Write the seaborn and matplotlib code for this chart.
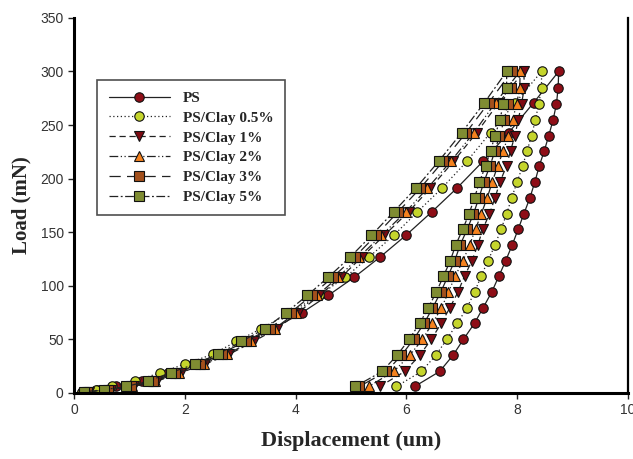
import matplotlib
matplotlib.use("Agg")
import matplotlib.pyplot as plt
import pandas as pd
import seaborn as sns

# Nanoindentation load-displacement curves (loading branch, then unloading branch)
series_names = ["PS", "PS/Clay 0.5%", "PS/Clay 1%", "PS/Clay 2%", "PS/Clay 3%", "PS/Clay 5%"]

loading_loads = [1, 3, 6, 11, 19, 27, 36, 48, 60, 75, 91, 108, 127, 147, 169, 191, 216, 243, 271, 300]
unloading_loads = [285, 270, 255, 240, 226, 212, 197, 182, 167, 153, 138, 123, 109, 94, 79, 65, 50, 35, 20, 6]

ps_loading = [0.15, 0.42, 0.76, 1.23, 1.70, 2.15, 2.62, 3.10, 3.60, 4.12, 4.59, 5.06, 5.53, 5.99, 6.46, 6.91, 7.38, 7.85, 8.30, 8.75]
ps_unloading = [8.74, 8.71, 8.65, 8.57, 8.49, 8.40, 8.32, 8.23, 8.12, 8.02, 7.91, 7.79, 7.67, 7.54, 7.38, 7.23, 7.03, 6.84, 6.60, 6.15]

clay05_loading = [0.15, 0.40, 0.69, 1.10, 1.56, 2.01, 2.50, 2.93, 3.38, 3.90, 4.42, 4.90, 5.33, 5.77, 6.20, 6.64, 7.09, 7.52, 7.97, 8.44]
clay05_unloading = [8.44, 8.39, 8.33, 8.26, 8.18, 8.10, 8.00, 7.90, 7.81, 7.71, 7.60, 7.47, 7.35, 7.23, 7.09, 6.92, 6.73, 6.53, 6.27, 5.82]

clay1_loading = [0.27, 0.66, 1.08, 1.50, 1.93, 2.37, 2.80, 3.24, 3.66, 4.05, 4.43, 4.82, 5.20, 5.60, 6.04, 6.43, 6.85, 7.27, 7.67, 8.12]
clay1_unloading = [8.13, 8.08, 8.02, 7.96, 7.88, 7.81, 7.69, 7.60, 7.50, 7.38, 7.29, 7.18, 7.05, 6.93, 6.78, 6.63, 6.45, 6.24, 5.97, 5.52]

clay2_loading = [0.25, 0.62, 1.05, 1.47, 1.90, 2.34, 2.76, 3.20, 3.62, 4.01, 4.39, 4.77, 5.15, 5.55, 5.99, 6.38, 6.80, 7.22, 7.61, 8.05]
clay2_unloading = [8.05, 7.99, 7.92, 7.84, 7.75, 7.65, 7.55, 7.46, 7.35, 7.25, 7.14, 7.02, 6.88, 6.76, 6.63, 6.47, 6.29, 6.06, 5.77, 5.32]

clay3_loading = [0.24, 0.62, 1.02, 1.42, 1.83, 2.27, 2.67, 3.10, 3.53, 3.91, 4.29, 4.67, 5.07, 5.45, 5.85, 6.25, 6.66, 7.08, 7.49, 7.90]
clay3_unloading = [7.89, 7.83, 7.77, 7.68, 7.60, 7.51, 7.40, 7.31, 7.21, 7.10, 6.97, 6.87, 6.75, 6.62, 6.47, 6.32, 6.13, 5.91, 5.64, 5.15]

clay5_loading = [0.18, 0.54, 0.94, 1.34, 1.75, 2.19, 2.59, 3.02, 3.45, 3.83, 4.21, 4.59, 4.99, 5.37, 5.77, 6.17, 6.58, 7.00, 7.41, 7.81]
clay5_unloading = [7.81, 7.75, 7.69, 7.60, 7.52, 7.43, 7.32, 7.23, 7.13, 7.02, 6.89, 6.79, 6.67, 6.54, 6.39, 6.24, 6.05, 5.83, 5.56, 5.08]

curves = {
    "PS": (ps_loading, ps_unloading),
    "PS/Clay 0.5%": (clay05_loading, clay05_unloading),
    "PS/Clay 1%": (clay1_loading, clay1_unloading),
    "PS/Clay 2%": (clay2_loading, clay2_unloading),
    "PS/Clay 3%": (clay3_loading, clay3_unloading),
    "PS/Clay 5%": (clay5_loading, clay5_unloading),
}

rows = []
for name in series_names:
    load_disp, unload_disp = curves[name]
    disp = list(load_disp) + list(unload_disp)
    load = list(loading_loads) + list(unloading_loads)
    for i, (d, p) in enumerate(zip(disp, load)):
        rows.append({"series": name, "step": i, "disp": d, "load": p})
df = pd.DataFrame(rows)

palette = {
    "PS": "#8e0e17",
    "PS/Clay 0.5%": "#c5d52c",
    "PS/Clay 1%": "#7d0a12",
    "PS/Clay 2%": "#f5821e",
    "PS/Clay 3%": "#a3501c",
    "PS/Clay 5%": "#7f8c32",
}
markers = {
    "PS": "o",
    "PS/Clay 0.5%": "o",
    "PS/Clay 1%": "v",
    "PS/Clay 2%": "^",
    "PS/Clay 3%": "s",
    "PS/Clay 5%": "s",
}
dashes = {
    "PS": "",
    "PS/Clay 0.5%": (1, 2),
    "PS/Clay 1%": (5, 3),
    "PS/Clay 2%": (7, 2, 1, 2, 1, 2),
    "PS/Clay 3%": (9, 5),
    "PS/Clay 5%": (7, 2, 1.5, 2),
}

sns.set_style("white")
plt.rcParams["font.family"] = ["Liberation Sans", "DejaVu Sans"]

fig = plt.figure(figsize=(6.33, 4.59), dpi=100)
ax = fig.add_axes([0.117, 0.144, 0.875, 0.817])

sns.lineplot(
    data=df, x="disp", y="load", hue="series", style="series",
    hue_order=series_names, style_order=series_names,
    palette=palette, markers=markers, dashes=dashes,
    sort=False, estimator=None, units="series",
    markersize=6.8, linewidth=0.9, legend=False, ax=ax,
)

series_lines = ax.lines[:len(series_names)]
for line in series_lines:
    c = line.get_color()
    line.set_markerfacecolor(c)
    line.set_markeredgecolor("#111111")
    line.set_markeredgewidth(0.8)
    line.set_color("#222222")
    if line.get_marker() == "s":
        line.set_markersize(7.2)

ax.set_xlim(0, 10)
ax.set_ylim(0, 350)
ax.set_xticks([0, 2, 4, 6, 8, 10])
ax.set_yticks(range(0, 351, 50))
ax.tick_params(axis="both", direction="out", length=4, width=1, colors="#222222",
               labelsize=10, labelcolor="#333333", bottom=True, left=True)

for side in ["left", "bottom"]:
    ax.spines[side].set_linewidth(2.2)
    ax.spines[side].set_color("black")
ax.spines["right"].set_linewidth(1.6)
ax.spines["right"].set_color("black")
ax.spines["top"].set_visible(False)

serif = ["Liberation Serif", "DejaVu Serif"]
ax.set_xlabel("Displacement (um)", fontdict={"family": serif, "weight": "bold", "size": 16},
              labelpad=10)
ax.set_ylabel("Load (mN)", fontdict={"family": serif, "weight": "bold", "size": 15},
              labelpad=6)

leg = ax.legend(
    series_lines, series_names, loc="upper left", bbox_to_anchor=(0.0415, 0.835),
    borderaxespad=0, frameon=True, fancybox=False, edgecolor="#222222",
    handlelength=4.0, handletextpad=0.85, labelspacing=0.4, borderpad=0.75,
    prop={"family": serif, "weight": "bold", "size": 11},
)
leg.get_frame().set_linewidth(1.2)

fig.savefig("out.png", dpi=100)
